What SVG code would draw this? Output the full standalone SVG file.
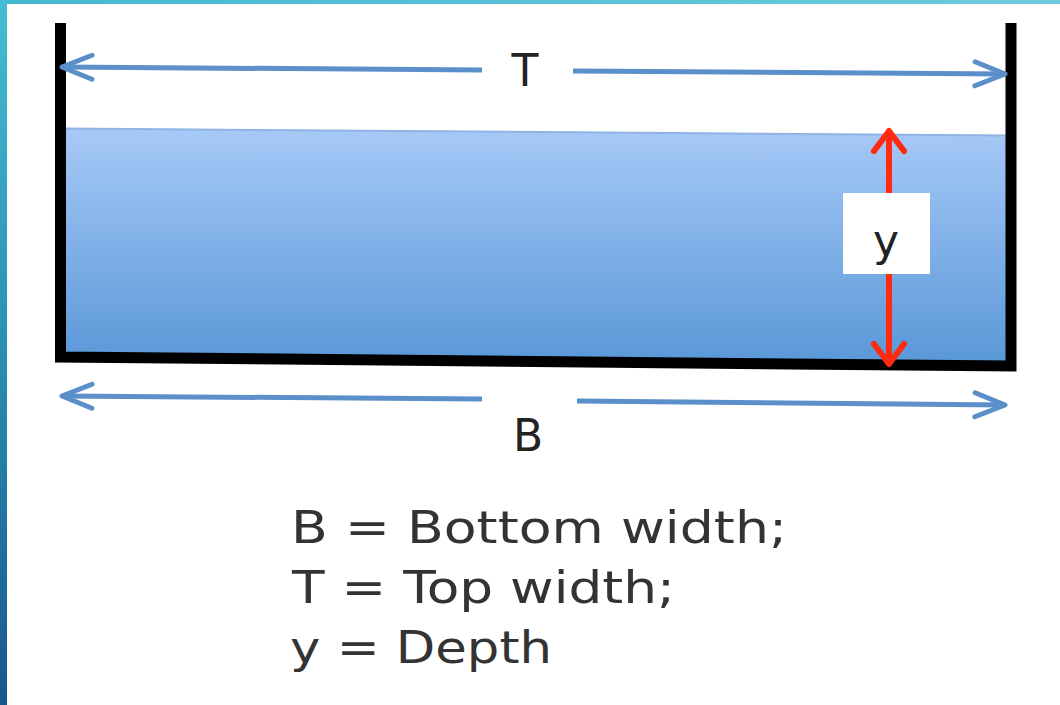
<svg xmlns="http://www.w3.org/2000/svg" width="1060" height="705" viewBox="0 0 1060 705">
  <defs>
    <linearGradient id="leftBand" x1="0" y1="0" x2="0" y2="1">
      <stop offset="0" stop-color="#44bcd4"/>
      <stop offset="0.5" stop-color="#2a8fb0"/>
      <stop offset="1" stop-color="#18578a"/>
    </linearGradient>
    <linearGradient id="topBand" x1="0" y1="0" x2="1" y2="0">
      <stop offset="0" stop-color="#44b9d2"/>
      <stop offset="1" stop-color="#6ccbdc"/>
    </linearGradient>
    <linearGradient id="water" x1="0" y1="0" x2="0" y2="1">
      <stop offset="0" stop-color="#a7c9f7"/>
      <stop offset="1" stop-color="#5a98d8"/>
    </linearGradient>
    <marker id="blueHead" markerUnits="userSpaceOnUse" viewBox="-36 -16 40 32" refX="0" refY="0" markerWidth="40" markerHeight="32" orient="auto-start-reverse">
      <path d="M-30,-12 L0,0 L-30,12" fill="none" stroke="#5b8fca" stroke-width="5" stroke-linecap="round" stroke-linejoin="round"/>
    </marker>
    <marker id="redHead" markerUnits="userSpaceOnUse" viewBox="-26 -20 30 40" refX="0" refY="0" markerWidth="30" markerHeight="40" orient="auto-start-reverse">
      <path d="M-20,-15 L0,0 L-20,15" fill="none" stroke="#ff2a10" stroke-width="6" stroke-linecap="round" stroke-linejoin="round"/>
    </marker>
    <style>
      .wall { fill: none; stroke: #000; stroke-width: 11; stroke-linejoin: miter; }
      .blue { stroke: #5b8fca; stroke-width: 5; fill: none; }
      .red { stroke: #ff2a10; stroke-width: 6; fill: none; }
      .lbl { font-family: "DejaVu Sans", "Open Sans", sans-serif; font-size: 44px; fill: #222; }
      .legend { font-family: "DejaVu Sans", "Open Sans", sans-serif; font-size: 44px; fill: #333; }
    </style>
  </defs>

  <rect width="1060" height="705" fill="#ffffff"/>
  <rect x="0" y="0" width="1060" height="4" fill="url(#topBand)"/>
  <rect x="0" y="0" width="7" height="705" fill="url(#leftBand)"/>

  <g id="channel">
    <polygon points="64,128 1006,135 1006,362 64,354" fill="url(#water)"/>
    <line x1="64" y1="128.5" x2="1006" y2="135.5" stroke="#8fb4e4" stroke-width="2"/>
    <path class="wall" d="M60.5,23 L60.5,357 L1011,366 L1011,23"/>
  </g>

  <g id="connectors">
    <line class="blue" x1="62" y1="67" x2="482" y2="70" marker-start="url(#blueHead)"/>
    <line class="blue" x1="573" y1="71" x2="1005" y2="74" marker-end="url(#blueHead)"/>
    <line class="blue" x1="62" y1="396" x2="482" y2="399" marker-start="url(#blueHead)"/>
    <line class="blue" x1="577" y1="401" x2="1005" y2="405" marker-end="url(#blueHead)"/>
    <line class="red" x1="889" y1="131" x2="889" y2="364" marker-start="url(#redHead)" marker-end="url(#redHead)"/>
  </g>

  <g id="label-T">
    <text class="lbl" x="525" y="86" text-anchor="middle">T</text>
  </g>
  <g id="label-B">
    <text class="lbl" x="528" y="451" text-anchor="middle">B</text>
  </g>
  <g id="label-y">
    <rect x="843" y="193" width="87" height="81" fill="#ffffff"/>
    <text class="lbl" x="886" y="256" text-anchor="middle">y</text>
  </g>

  <g id="legend">
    <text class="legend" x="291" y="543" textLength="496" lengthAdjust="spacingAndGlyphs">B = Bottom width;</text>
    <text class="legend" x="292" y="603" textLength="383" lengthAdjust="spacingAndGlyphs">T = Top width;</text>
    <text class="legend" x="290" y="663" textLength="262" lengthAdjust="spacingAndGlyphs">y = Depth</text>
  </g>
</svg>
